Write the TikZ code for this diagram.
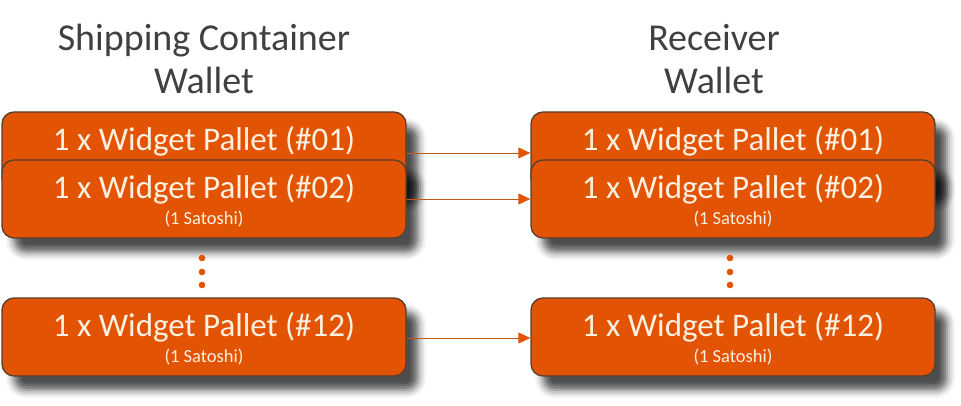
\documentclass[tikz,border=0pt]{standalone}
\usepackage{fontspec}
\setmainfont{Carlito}
\usetikzlibrary{shadows.blur,arrows.meta,positioning}

\definecolor{palletorange}{RGB}{226,83,3}
\definecolor{palletborder}{RGB}{88,64,48}
\definecolor{pallettext}{RGB}{252,240,225}
\definecolor{titlegray}{RGB}{64,64,64}
\definecolor{movebrown}{RGB}{197,90,17}

\tikzset{
  pallet/.style={draw=palletborder,line width=1.3pt,fill=palletorange,
    rounded corners=12pt,minimum width=404pt,minimum height=78pt,
    blur shadow={shadow xshift=12pt,shadow yshift=-14pt,
      shadow opacity=70,shadow blur radius=8pt}},
  palletname/.style={text=pallettext,font=\fontsize{33}{36}\selectfont},
  satoshi/.style={text=pallettext,font=\fontsize{18.5}{21}\selectfont},
  wallet/.style={text=titlegray,align=center,font=\fontsize{38}{43}\selectfont},
  move/.style={draw=movebrown,line width=0.9pt,
    -{Triangle[length=12pt,width=11pt,color=palletorange]}}
}

\begin{document}
\begin{tikzpicture}[x=1pt,y=1pt]
  \useasboundingbox (0,0) rectangle (961,406) ;
  % wallet titles
  \node[wallet] (sendtitle) at (204,347) {Shipping Container\\Wallet} ;
  \node[wallet] (recvtitle) at (714,347) {Receiver\\Wallet} ;
  % sending wallet
  \node[pallet] (send01) at (204,255) {} ;
  \node[palletname] at ([yshift=10pt]send01.center) {1 x Widget Pallet (\#01)} ;
  \node[pallet] (send02) at (204,207) {} ;
  \node[palletname] at ([yshift=10pt]send02.center) {1 x Widget Pallet (\#02)} ;
  \node[satoshi] at ([yshift=-20pt]send02.center) {(1 Satoshi)} ;
  \node[pallet] (send12) at (204,69) {} ;
  \node[palletname] at ([yshift=10pt]send12.center) {1 x Widget Pallet (\#12)} ;
  \node[satoshi] at ([yshift=-20pt]send12.center) {(1 Satoshi)} ;
  % receiving wallet
  \node[pallet] (recv01) at (733,255) {} ;
  \node[palletname] at ([yshift=10pt]recv01.center) {1 x Widget Pallet (\#01)} ;
  \node[pallet] (recv02) at (733,207) {} ;
  \node[palletname] at ([yshift=10pt]recv02.center) {1 x Widget Pallet (\#02)} ;
  \node[satoshi] at ([yshift=-20pt]recv02.center) {(1 Satoshi)} ;
  \node[pallet] (recv12) at (733,69) {} ;
  \node[palletname] at ([yshift=10pt]recv12.center) {1 x Widget Pallet (\#12)} ;
  \node[satoshi] at ([yshift=-20pt]recv12.center) {(1 Satoshi)} ;
  % dots between the pallets
  \foreach \y in {148,134,121} {
    \fill[palletorange] (202,\y) circle (3.3) ;
    \fill[palletorange] (730,\y) circle (3.3) ;
  }
  % transfers
  \draw[move] ([yshift=-2pt]send01.east) -- ([yshift=-2pt]recv01.west) ;
  \draw[move] (send02.east) -- (recv02.west) ;
  \draw[move] ([yshift=-1pt]send12.east) -- ([yshift=-1pt]recv12.west) ;
\end{tikzpicture}
\end{document}
